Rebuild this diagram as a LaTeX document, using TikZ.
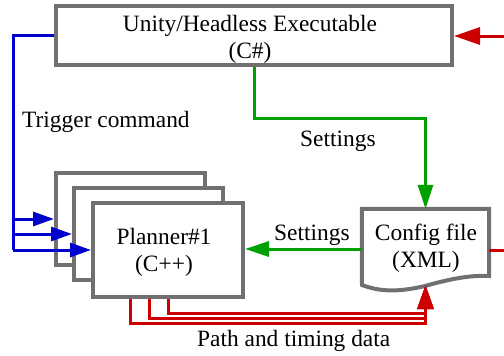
\documentclass[tikz,border=0pt]{standalone}
\usepackage{fontspec}
\setmainfont{Liberation Serif}
\usetikzlibrary{arrows.meta,calc}

\definecolor{boxgray}{RGB}{112,112,112}
\definecolor{cmdblue}{RGB}{0,0,204}
\definecolor{setgreen}{RGB}{0,160,0}
\definecolor{datared}{RGB}{204,0,0}

\tikzset{
  box/.style={draw=boxgray, line width=4pt, fill=white, inner sep=0pt},
  txt/.style={font=\fontsize{23.4}{27}\selectfont, inner sep=0pt, align=center},
  flow/.style={line width=3pt},
  bluetip/.style={-{Triangle[length=21pt,width=14pt]}},
  greentip/.style={-{Triangle[length=24pt,width=15pt]}},
  redtip/.style={-{Triangle[length=24pt,width=16pt]}},
  bigredtip/.style={-{Triangle[length=26pt,width=17pt]}},
}

\begin{document}
\begin{tikzpicture}[x=1pt,y=-1pt]
\useasboundingbox (0,0) rectangle (504,356);

% executable box
\node[box, minimum width=396pt, minimum height=59pt] (unity) at (254,35.5) {};
\node[txt, anchor=base] (unitytxt) at (250,58) {Unity/Headless Executable\\(C\#)};

% stacked planner boxes
\node[box, minimum width=149pt, minimum height=92pt] (p3) at (130.5,219) {};
\node[box, minimum width=149pt, minimum height=92pt] (p2) at (148.5,234) {};
\node[box, minimum width=150pt, minimum height=94pt] (p1) at (168,250) {};
\node[txt, anchor=base] (p1txt) at (164,271) {Planner\#1\\(C++)};

% config file (document shape)
\node[minimum width=127pt, minimum height=76pt, inner sep=0pt] (config) at (425.5,247) {};
\draw[draw=boxgray, line width=4pt, fill=white]
  (config.north west) -- (config.north east) -- (489,276)
  .. controls (470,275) and (450,279) .. (425,286)
  .. controls (395,293) and (378,291) .. (362,285) -- cycle;
\node[txt, anchor=base] (configtxt) at (426,267) {Config file\\(XML)};

% trigger commands
\coordinate (trunk) at (13,250);
\draw[flow, cmdblue, line join=miter] (unity.west) -| (trunk);
\draw[flow, cmdblue, bluetip] (p3.west -| trunk) -- (p3.west);
\draw[flow, cmdblue, bluetip] (p2.west -| trunk) -- (p2.west);
\draw[flow, cmdblue, bluetip] (trunk) -- (p1.west);
\node[txt, anchor=base west] (trig) at (22,127) {Trigger command};

% settings
\coordinate (gturn) at (425.5,118);
\draw[flow, setgreen, greentip] (unity.south) |- (gturn) -- (config.north);
\node[txt, anchor=base west] (set1) at (300,146) {Settings};
\draw[flow, setgreen, greentip] (config.west |- 0,249) -- (p1.east |- 0,249);
\node[txt, anchor=base west] (set2) at (274,240) {Settings};

% external links
\coordinate (rin) at (504,36);
\coordinate (rout) at (504,250);
\draw[flow, datared, bigredtip] (rin) -- (unity.east |- rin);
\draw[flow, datared] (config.east |- rout) -- (rout);

% path and timing data
\draw[flow, datared, redtip] ([xshift=-38pt]p1.south) |- ($(config.south)+(0,38)$) -- (config.south);
\draw[flow, datared, redtip] ([xshift=-19pt]p1.south) |- ($(config.south)+(0,33)$) -- (config.south);
\draw[flow, datared, redtip] (p1.south) |- ($(config.south)+(0,28)$) -- (config.south);
\node[txt, anchor=base west] (data) at (197,346) {Path and timing data};
\end{tikzpicture}
\end{document}
